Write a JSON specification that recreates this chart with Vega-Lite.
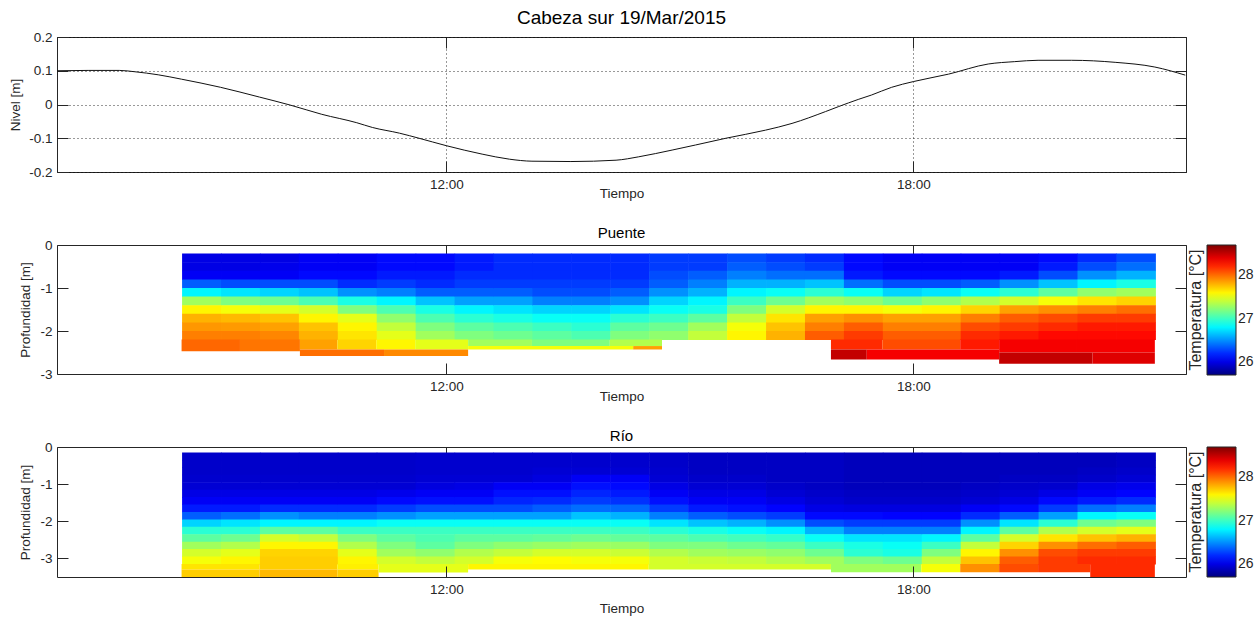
{
"$schema":"https://vega.github.io/schema/vega-lite/v6.json",
"background":"white",
"padding":{"left":7,"top":8,"right":2,"bottom":1},
"bounds":"flush",
"spacing":73,
"config":{
 "font":"Liberation Sans",
 "view":{"stroke":"#262626","strokeWidth":1},
 "axis":{"domain":false,"ticks":true,"tickSize":-11,"tickColor":"#262626","labelFontSize":13.5,"labelColor":"#262626","titleFontSize":13.5,"titleFontWeight":"normal","titleColor":"#262626","grid":false,"labelPadding":16},
 "legend":{"gradientLength":130,"gradientThickness":29,"titleOrient":"left","titleAngle":270,"titleFontSize":16,"titleFontWeight":"normal","labelFontSize":14,"offset":1,"padding":0,"titlePadding":2,"labelOffset":1,"gradientStrokeColor":"#262626","gradientStrokeWidth":1,"titleColor":"#262626","labelColor":"#262626"}
},
"datasets":{
 "nivel":[
  {"h":7.0,"n":0.1},{"h":7.4,"n":0.101},{"h":7.8,"n":0.101},{"h":8.0,"n":0.097},{"h":8.3,"n":0.088},{"h":8.6,"n":0.075},{"h":9.1,"n":0.051},{"h":9.6,"n":0.022},{"h":10.0,"n":-0.002},{"h":10.4,"n":-0.029},{"h":10.85,"n":-0.054},{"h":11.05,"n":-0.068},{"h":11.4,"n":-0.085},{"h":11.65,"n":-0.1},{"h":12.0,"n":-0.122},{"h":12.46,"n":-0.147},{"h":12.81,"n":-0.162},{"h":13.1,"n":-0.168},{"h":13.6,"n":-0.169},{"h":14.18,"n":-0.165},{"h":14.47,"n":-0.155},{"h":14.9,"n":-0.135},{"h":15.2,"n":-0.12},{"h":15.59,"n":-0.1},{"h":16.1,"n":-0.076},{"h":16.44,"n":-0.056},{"h":16.87,"n":-0.021},{"h":17.04,"n":-0.006},{"h":17.29,"n":0.015},{"h":17.46,"n":0.028},{"h":17.72,"n":0.051},{"h":18.0,"n":0.068},{"h":18.45,"n":0.09},{"h":18.96,"n":0.12},{"h":19.3,"n":0.127},{"h":19.6,"n":0.131},{"h":20.03,"n":0.131},{"h":20.59,"n":0.125},{"h":21.1,"n":0.111},{"h":21.49,"n":0.087}
 ],
 "puente":[
  {"t":8.6,"z":-0.4,"v":26},{"t":8.6,"z":-0.6,"v":26},{"t":8.6,"z":-0.8,"v":26.05},{"t":8.6,"z":-1,"v":26.35},{"t":8.6,"z":-1.2,"v":26.8},{"t":8.6,"z":-1.4,"v":27.3},{"t":8.6,"z":-1.6,"v":27.6},{"t":8.6,"z":-1.8,"v":27.8},{"t":8.6,"z":-2,"v":27.88},{"t":8.6,"z":-2.2,"v":27.95},
  {"t":9.1,"z":-0.4,"v":26},{"t":9.1,"z":-0.6,"v":26},{"t":9.1,"z":-0.8,"v":26.05},{"t":9.1,"z":-1,"v":26.3},{"t":9.1,"z":-1.2,"v":26.75},{"t":9.1,"z":-1.4,"v":27.2},{"t":9.1,"z":-1.6,"v":27.55},{"t":9.1,"z":-1.8,"v":27.78},{"t":9.1,"z":-2,"v":27.87},{"t":9.1,"z":-2.2,"v":27.95},
  {"t":9.6,"z":-0.4,"v":26},{"t":9.6,"z":-0.6,"v":26.02},{"t":9.6,"z":-0.8,"v":26.05},{"t":9.6,"z":-1,"v":26.3},{"t":9.6,"z":-1.2,"v":26.7},{"t":9.6,"z":-1.4,"v":27.15},{"t":9.6,"z":-1.6,"v":27.5},{"t":9.6,"z":-1.8,"v":27.75},{"t":9.6,"z":-2,"v":27.85},{"t":9.6,"z":-2.2,"v":27.93},
  {"t":10.1,"z":-0.4,"v":26.05},{"t":10.1,"z":-0.6,"v":26.05},{"t":10.1,"z":-0.8,"v":26.1},{"t":10.1,"z":-1,"v":26.3},{"t":10.1,"z":-1.2,"v":26.65},{"t":10.1,"z":-1.4,"v":27.05},{"t":10.1,"z":-1.6,"v":27.45},{"t":10.1,"z":-1.8,"v":27.6},{"t":10.1,"z":-2,"v":27.75},{"t":10.1,"z":-2.2,"v":27.8},
  {"t":10.6,"z":-0.4,"v":26.05},{"t":10.6,"z":-0.6,"v":26.05},{"t":10.6,"z":-0.8,"v":26.1},{"t":10.6,"z":-1,"v":26.2},{"t":10.6,"z":-1.2,"v":26.5},{"t":10.6,"z":-1.4,"v":26.9},{"t":10.6,"z":-1.6,"v":27.2},{"t":10.6,"z":-1.8,"v":27.5},{"t":10.6,"z":-2,"v":27.6},{"t":10.6,"z":-2.2,"v":27.65},
  {"t":11.1,"z":-0.4,"v":26.1},{"t":11.1,"z":-0.6,"v":26.1},{"t":11.1,"z":-0.8,"v":26.15},{"t":11.1,"z":-1,"v":26.25},{"t":11.1,"z":-1.2,"v":26.45},{"t":11.1,"z":-1.4,"v":26.8},{"t":11.1,"z":-1.6,"v":27.05},{"t":11.1,"z":-1.8,"v":27.25},{"t":11.1,"z":-2,"v":27.4},{"t":11.1,"z":-2.2,"v":27.5},
  {"t":11.6,"z":-0.4,"v":26.1},{"t":11.6,"z":-0.6,"v":26.1},{"t":11.6,"z":-0.8,"v":26.15},{"t":11.6,"z":-1,"v":26.2},{"t":11.6,"z":-1.2,"v":26.35},{"t":11.6,"z":-1.4,"v":26.65},{"t":11.6,"z":-1.6,"v":26.9},{"t":11.6,"z":-1.8,"v":27.05},{"t":11.6,"z":-2,"v":27.2},{"t":11.6,"z":-2.2,"v":27.3},
  {"t":12.1,"z":-0.4,"v":26.15},{"t":12.1,"z":-0.6,"v":26.15},{"t":12.1,"z":-0.8,"v":26.2},{"t":12.1,"z":-1,"v":26.25},{"t":12.1,"z":-1.2,"v":26.35},{"t":12.1,"z":-1.4,"v":26.55},{"t":12.1,"z":-1.6,"v":26.8},{"t":12.1,"z":-1.8,"v":26.95},{"t":12.1,"z":-2,"v":27.1},{"t":12.1,"z":-2.2,"v":27.2},
  {"t":12.6,"z":-0.4,"v":26.2},{"t":12.6,"z":-0.6,"v":26.2},{"t":12.6,"z":-0.8,"v":26.2},{"t":12.6,"z":-1,"v":26.25},{"t":12.6,"z":-1.2,"v":26.35},{"t":12.6,"z":-1.4,"v":26.55},{"t":12.6,"z":-1.6,"v":26.75},{"t":12.6,"z":-1.8,"v":26.9},{"t":12.6,"z":-2,"v":27.05},{"t":12.6,"z":-2.2,"v":27.15},
  {"t":13.1,"z":-0.4,"v":26.2},{"t":13.1,"z":-0.6,"v":26.2},{"t":13.1,"z":-0.8,"v":26.2},{"t":13.1,"z":-1,"v":26.25},{"t":13.1,"z":-1.2,"v":26.3},{"t":13.1,"z":-1.4,"v":26.45},{"t":13.1,"z":-1.6,"v":26.7},{"t":13.1,"z":-1.8,"v":26.85},{"t":13.1,"z":-2,"v":27},{"t":13.1,"z":-2.2,"v":27.1},
  {"t":13.6,"z":-0.4,"v":26.2},{"t":13.6,"z":-0.6,"v":26.2},{"t":13.6,"z":-0.8,"v":26.2},{"t":13.6,"z":-1,"v":26.25},{"t":13.6,"z":-1.2,"v":26.3},{"t":13.6,"z":-1.4,"v":26.45},{"t":13.6,"z":-1.6,"v":26.7},{"t":13.6,"z":-1.8,"v":26.85},{"t":13.6,"z":-2,"v":26.95},{"t":13.6,"z":-2.2,"v":27.05},
  {"t":14.1,"z":-0.4,"v":26.2},{"t":14.1,"z":-0.6,"v":26.2},{"t":14.1,"z":-0.8,"v":26.2},{"t":14.1,"z":-1,"v":26.25},{"t":14.1,"z":-1.2,"v":26.35},{"t":14.1,"z":-1.4,"v":26.5},{"t":14.1,"z":-1.6,"v":26.75},{"t":14.1,"z":-1.8,"v":26.95},{"t":14.1,"z":-2,"v":27.1},{"t":14.1,"z":-2.2,"v":27.2},
  {"t":14.6,"z":-0.4,"v":26.25},{"t":14.6,"z":-0.6,"v":26.25},{"t":14.6,"z":-0.8,"v":26.3},{"t":14.6,"z":-1,"v":26.35},{"t":14.6,"z":-1.2,"v":26.5},{"t":14.6,"z":-1.4,"v":26.7},{"t":14.6,"z":-1.6,"v":26.85},{"t":14.6,"z":-1.8,"v":27},{"t":14.6,"z":-2,"v":27.15},{"t":14.6,"z":-2.2,"v":27.25},
  {"t":15.1,"z":-0.4,"v":26.25},{"t":15.1,"z":-0.6,"v":26.25},{"t":15.1,"z":-0.8,"v":26.35},{"t":15.1,"z":-1,"v":26.45},{"t":15.1,"z":-1.2,"v":26.6},{"t":15.1,"z":-1.4,"v":26.8},{"t":15.1,"z":-1.6,"v":26.9},{"t":15.1,"z":-1.8,"v":27.1},{"t":15.1,"z":-2,"v":27.3},{"t":15.1,"z":-2.2,"v":27.4},
  {"t":15.6,"z":-0.4,"v":26.3},{"t":15.6,"z":-0.6,"v":26.35},{"t":15.6,"z":-0.8,"v":26.45},{"t":15.6,"z":-1,"v":26.6},{"t":15.6,"z":-1.2,"v":26.8},{"t":15.6,"z":-1.4,"v":27},{"t":15.6,"z":-1.6,"v":27.2},{"t":15.6,"z":-1.8,"v":27.4},{"t":15.6,"z":-2,"v":27.55},{"t":15.6,"z":-2.2,"v":27.6},
  {"t":16.1,"z":-0.4,"v":26.25},{"t":16.1,"z":-0.6,"v":26.3},{"t":16.1,"z":-0.8,"v":26.4},{"t":16.1,"z":-1,"v":26.6},{"t":16.1,"z":-1.2,"v":26.85},{"t":16.1,"z":-1.4,"v":27.15},{"t":16.1,"z":-1.6,"v":27.45},{"t":16.1,"z":-1.8,"v":27.65},{"t":16.1,"z":-2,"v":27.75},{"t":16.1,"z":-2.2,"v":27.8},
  {"t":16.6,"z":-0.4,"v":26.2},{"t":16.6,"z":-0.6,"v":26.25},{"t":16.6,"z":-0.8,"v":26.4},{"t":16.6,"z":-1,"v":26.65},{"t":16.6,"z":-1.2,"v":26.95},{"t":16.6,"z":-1.4,"v":27.3},{"t":16.6,"z":-1.6,"v":27.6},{"t":16.6,"z":-1.8,"v":27.85},{"t":16.6,"z":-2,"v":27.95},{"t":16.6,"z":-2.2,"v":28.05},
  {"t":17.1,"z":-0.4,"v":26.1},{"t":17.1,"z":-0.6,"v":26.1},{"t":17.1,"z":-0.8,"v":26.15},{"t":17.1,"z":-1,"v":26.4},{"t":17.1,"z":-1.2,"v":26.85},{"t":17.1,"z":-1.4,"v":27.25},{"t":17.1,"z":-1.6,"v":27.6},{"t":17.1,"z":-1.8,"v":27.9},{"t":17.1,"z":-2,"v":28.05},{"t":17.1,"z":-2.2,"v":28.15},
  {"t":17.6,"z":-0.4,"v":26.05},{"t":17.6,"z":-0.6,"v":26.05},{"t":17.6,"z":-0.8,"v":26.1},{"t":17.6,"z":-1,"v":26.3},{"t":17.6,"z":-1.2,"v":26.7},{"t":17.6,"z":-1.4,"v":27.15},{"t":17.6,"z":-1.6,"v":27.55},{"t":17.6,"z":-1.8,"v":27.85},{"t":17.6,"z":-2,"v":27.95},{"t":17.6,"z":-2.2,"v":28.05},
  {"t":18.1,"z":-0.4,"v":26.05},{"t":18.1,"z":-0.6,"v":26.05},{"t":18.1,"z":-0.8,"v":26.1},{"t":18.1,"z":-1,"v":26.3},{"t":18.1,"z":-1.2,"v":26.75},{"t":18.1,"z":-1.4,"v":27.25},{"t":18.1,"z":-1.6,"v":27.6},{"t":18.1,"z":-1.8,"v":27.85},{"t":18.1,"z":-2,"v":27.95},{"t":18.1,"z":-2.2,"v":28.05},
  {"t":18.6,"z":-0.4,"v":26.05},{"t":18.6,"z":-0.6,"v":26.05},{"t":18.6,"z":-0.8,"v":26.1},{"t":18.6,"z":-1,"v":26.35},{"t":18.6,"z":-1.2,"v":26.85},{"t":18.6,"z":-1.4,"v":27.35},{"t":18.6,"z":-1.6,"v":27.7},{"t":18.6,"z":-1.8,"v":27.95},{"t":18.6,"z":-2,"v":28.1},{"t":18.6,"z":-2.2,"v":28.2},
  {"t":19.1,"z":-0.4,"v":26.05},{"t":19.1,"z":-0.6,"v":26.05},{"t":19.1,"z":-0.8,"v":26.15},{"t":19.1,"z":-1,"v":26.5},{"t":19.1,"z":-1.2,"v":26.95},{"t":19.1,"z":-1.4,"v":27.45},{"t":19.1,"z":-1.6,"v":27.85},{"t":19.1,"z":-1.8,"v":28.05},{"t":19.1,"z":-2,"v":28.15},{"t":19.1,"z":-2.2,"v":28.25},
  {"t":19.6,"z":-0.4,"v":26.1},{"t":19.6,"z":-0.6,"v":26.15},{"t":19.6,"z":-0.8,"v":26.3},{"t":19.6,"z":-1,"v":26.65},{"t":19.6,"z":-1.2,"v":27.1},{"t":19.6,"z":-1.4,"v":27.55},{"t":19.6,"z":-1.6,"v":27.9},{"t":19.6,"z":-1.8,"v":28.1},{"t":19.6,"z":-2,"v":28.2},{"t":19.6,"z":-2.2,"v":28.3},
  {"t":20.1,"z":-0.4,"v":26.2},{"t":20.1,"z":-0.6,"v":26.3},{"t":20.1,"z":-0.8,"v":26.5},{"t":20.1,"z":-1,"v":26.8},{"t":20.1,"z":-1.2,"v":27.25},{"t":20.1,"z":-1.4,"v":27.65},{"t":20.1,"z":-1.6,"v":27.95},{"t":20.1,"z":-1.8,"v":28.15},{"t":20.1,"z":-2,"v":28.25},{"t":20.1,"z":-2.2,"v":28.3},
  {"t":20.6,"z":-0.4,"v":26.3},{"t":20.6,"z":-0.6,"v":26.4},{"t":20.6,"z":-0.8,"v":26.6},{"t":20.6,"z":-1,"v":26.9},{"t":20.6,"z":-1.2,"v":27.3},{"t":20.6,"z":-1.4,"v":27.7},{"t":20.6,"z":-1.6,"v":28},{"t":20.6,"z":-1.8,"v":28.15},{"t":20.6,"z":-2,"v":28.25},{"t":20.6,"z":-2.2,"v":28.3}
 ],
 "puenteS":[
  {"a":8.6,"b":9.35,"p":-2.2,"q":-2.47,"v":28.02},{"a":9.35,"b":10.12,"p":-2.2,"q":-2.47,"v":27.98},
  {"a":10.12,"b":10.6,"p":-2.2,"q":-2.43,"v":27.85},{"a":10.6,"b":11.1,"p":-2.2,"q":-2.43,"v":27.7},{"a":11.1,"b":11.6,"p":-2.2,"q":-2.43,"v":27.6},{"a":11.6,"b":12.28,"p":-2.2,"q":-2.43,"v":27.5},
  {"a":10.12,"b":11.2,"p":-2.43,"q":-2.58,"v":28},{"a":11.2,"b":12.28,"p":-2.43,"q":-2.58,"v":27.92},
  {"a":12.28,"b":13.1,"p":-2.2,"q":-2.35,"v":27.3},{"a":13.1,"b":14.1,"p":-2.2,"q":-2.35,"v":27.2},{"a":14.1,"b":14.77,"p":-2.2,"q":-2.35,"v":27.35},
  {"a":12.28,"b":14.4,"p":-2.35,"q":-2.43,"v":27.55},{"a":14.4,"b":14.77,"p":-2.35,"q":-2.43,"v":27.85},
  {"a":16.94,"b":17.6,"p":-2.2,"q":-2.43,"v":28.2},{"a":17.6,"b":18.6,"p":-2.2,"q":-2.43,"v":28.1},{"a":18.6,"b":19.1,"p":-2.2,"q":-2.43,"v":28.25},
  {"a":16.94,"b":17.4,"p":-2.43,"q":-2.66,"v":28.5},{"a":17.4,"b":19.1,"p":-2.43,"q":-2.66,"v":28.35},
  {"a":19.1,"b":20.1,"p":-2.2,"q":-2.5,"v":28.35},{"a":20.1,"b":21.1,"p":-2.2,"q":-2.5,"v":28.35},
  {"a":19.1,"b":20.3,"p":-2.5,"q":-2.76,"v":28.5},{"a":20.3,"b":21.1,"p":-2.5,"q":-2.76,"v":28.42}
 ],
 "rio":[
  {"t":8.6,"z":-0.35,"v":25.92},{"t":8.6,"z":-0.55,"v":25.92},{"t":8.6,"z":-0.75,"v":25.92},{"t":8.6,"z":-0.95,"v":25.93},{"t":8.6,"z":-1.15,"v":25.95},{"t":8.6,"z":-1.35,"v":26},{"t":8.6,"z":-1.55,"v":26.05},{"t":8.6,"z":-1.75,"v":26.15},{"t":8.6,"z":-1.95,"v":26.35},{"t":8.6,"z":-2.15,"v":26.7},{"t":8.6,"z":-2.35,"v":26.95},{"t":8.6,"z":-2.55,"v":27.1},{"t":8.6,"z":-2.75,"v":27.3},{"t":8.6,"z":-2.95,"v":27.45},{"t":8.6,"z":-3.15,"v":27.55},
  {"t":9.1,"z":-0.35,"v":25.92},{"t":9.1,"z":-0.55,"v":25.92},{"t":9.1,"z":-0.75,"v":25.92},{"t":9.1,"z":-0.95,"v":25.93},{"t":9.1,"z":-1.15,"v":25.95},{"t":9.1,"z":-1.35,"v":26},{"t":9.1,"z":-1.55,"v":26.05},{"t":9.1,"z":-1.75,"v":26.15},{"t":9.1,"z":-1.95,"v":26.4},{"t":9.1,"z":-2.15,"v":26.75},{"t":9.1,"z":-2.35,"v":26.95},{"t":9.1,"z":-2.55,"v":27.15},{"t":9.1,"z":-2.75,"v":27.35},{"t":9.1,"z":-2.95,"v":27.5},{"t":9.1,"z":-3.15,"v":27.6},
  {"t":9.6,"z":-0.35,"v":25.92},{"t":9.6,"z":-0.55,"v":25.92},{"t":9.6,"z":-0.75,"v":25.92},{"t":9.6,"z":-0.95,"v":25.93},{"t":9.6,"z":-1.15,"v":25.95},{"t":9.6,"z":-1.35,"v":26},{"t":9.6,"z":-1.55,"v":26.05},{"t":9.6,"z":-1.75,"v":26.2},{"t":9.6,"z":-1.95,"v":26.5},{"t":9.6,"z":-2.15,"v":26.8},{"t":9.6,"z":-2.35,"v":27.1},{"t":9.6,"z":-2.55,"v":27.45},{"t":9.6,"z":-2.75,"v":27.6},{"t":9.6,"z":-2.95,"v":27.7},{"t":9.6,"z":-3.15,"v":27.72},
  {"t":10.1,"z":-0.35,"v":25.92},{"t":10.1,"z":-0.55,"v":25.92},{"t":10.1,"z":-0.75,"v":25.92},{"t":10.1,"z":-0.95,"v":25.93},{"t":10.1,"z":-1.15,"v":25.95},{"t":10.1,"z":-1.35,"v":26},{"t":10.1,"z":-1.55,"v":26.05},{"t":10.1,"z":-1.75,"v":26.2},{"t":10.1,"z":-1.95,"v":26.45},{"t":10.1,"z":-2.15,"v":26.8},{"t":10.1,"z":-2.35,"v":27.1},{"t":10.1,"z":-2.55,"v":27.4},{"t":10.1,"z":-2.75,"v":27.6},{"t":10.1,"z":-2.95,"v":27.7},{"t":10.1,"z":-3.15,"v":27.72},
  {"t":10.6,"z":-0.35,"v":25.92},{"t":10.6,"z":-0.55,"v":25.92},{"t":10.6,"z":-0.75,"v":25.92},{"t":10.6,"z":-0.95,"v":25.93},{"t":10.6,"z":-1.15,"v":25.95},{"t":10.6,"z":-1.35,"v":26},{"t":10.6,"z":-1.55,"v":26.05},{"t":10.6,"z":-1.75,"v":26.2},{"t":10.6,"z":-1.95,"v":26.45},{"t":10.6,"z":-2.15,"v":26.8},{"t":10.6,"z":-2.35,"v":27},{"t":10.6,"z":-2.55,"v":27.2},{"t":10.6,"z":-2.75,"v":27.35},{"t":10.6,"z":-2.95,"v":27.5},{"t":10.6,"z":-3.15,"v":27.6},
  {"t":11.1,"z":-0.35,"v":25.92},{"t":11.1,"z":-0.55,"v":25.92},{"t":11.1,"z":-0.75,"v":25.92},{"t":11.1,"z":-0.95,"v":25.93},{"t":11.1,"z":-1.15,"v":25.95},{"t":11.1,"z":-1.35,"v":26.02},{"t":11.1,"z":-1.55,"v":26.1},{"t":11.1,"z":-1.75,"v":26.25},{"t":11.1,"z":-1.95,"v":26.5},{"t":11.1,"z":-2.15,"v":26.85},{"t":11.1,"z":-2.35,"v":27},{"t":11.1,"z":-2.55,"v":27.1},{"t":11.1,"z":-2.75,"v":27.2},{"t":11.1,"z":-2.95,"v":27.3},{"t":11.1,"z":-3.15,"v":27.45},
  {"t":11.6,"z":-0.35,"v":25.93},{"t":11.6,"z":-0.55,"v":25.93},{"t":11.6,"z":-0.75,"v":25.93},{"t":11.6,"z":-0.95,"v":25.95},{"t":11.6,"z":-1.15,"v":25.98},{"t":11.6,"z":-1.35,"v":26.05},{"t":11.6,"z":-1.55,"v":26.12},{"t":11.6,"z":-1.75,"v":26.3},{"t":11.6,"z":-1.95,"v":26.55},{"t":11.6,"z":-2.15,"v":26.85},{"t":11.6,"z":-2.35,"v":27},{"t":11.6,"z":-2.55,"v":27.05},{"t":11.6,"z":-2.75,"v":27.1},{"t":11.6,"z":-2.95,"v":27.25},{"t":11.6,"z":-3.15,"v":27.4},
  {"t":12.1,"z":-0.35,"v":25.93},{"t":12.1,"z":-0.55,"v":25.93},{"t":12.1,"z":-0.75,"v":25.93},{"t":12.1,"z":-0.95,"v":25.95},{"t":12.1,"z":-1.15,"v":26},{"t":12.1,"z":-1.35,"v":26.05},{"t":12.1,"z":-1.55,"v":26.12},{"t":12.1,"z":-1.75,"v":26.3},{"t":12.1,"z":-1.95,"v":26.55},{"t":12.1,"z":-2.15,"v":26.85},{"t":12.1,"z":-2.35,"v":27},{"t":12.1,"z":-2.55,"v":27.1},{"t":12.1,"z":-2.75,"v":27.2},{"t":12.1,"z":-2.95,"v":27.35},{"t":12.1,"z":-3.15,"v":27.45},
  {"t":12.6,"z":-0.35,"v":25.93},{"t":12.6,"z":-0.55,"v":25.93},{"t":12.6,"z":-0.75,"v":25.93},{"t":12.6,"z":-0.95,"v":25.95},{"t":12.6,"z":-1.15,"v":26.05},{"t":12.6,"z":-1.35,"v":26.12},{"t":12.6,"z":-1.55,"v":26.18},{"t":12.6,"z":-1.75,"v":26.3},{"t":12.6,"z":-1.95,"v":26.55},{"t":12.6,"z":-2.15,"v":26.85},{"t":12.6,"z":-2.35,"v":27},{"t":12.6,"z":-2.55,"v":27.1},{"t":12.6,"z":-2.75,"v":27.25},{"t":12.6,"z":-2.95,"v":27.4},{"t":12.6,"z":-3.15,"v":27.55},
  {"t":13.1,"z":-0.35,"v":25.93},{"t":13.1,"z":-0.55,"v":25.93},{"t":13.1,"z":-0.75,"v":25.95},{"t":13.1,"z":-0.95,"v":25.98},{"t":13.1,"z":-1.15,"v":26.05},{"t":13.1,"z":-1.35,"v":26.12},{"t":13.1,"z":-1.55,"v":26.2},{"t":13.1,"z":-1.75,"v":26.35},{"t":13.1,"z":-1.95,"v":26.55},{"t":13.1,"z":-2.15,"v":26.85},{"t":13.1,"z":-2.35,"v":27},{"t":13.1,"z":-2.55,"v":27.12},{"t":13.1,"z":-2.75,"v":27.28},{"t":13.1,"z":-2.95,"v":27.45},{"t":13.1,"z":-3.15,"v":27.58},
  {"t":13.6,"z":-0.35,"v":25.93},{"t":13.6,"z":-0.55,"v":25.93},{"t":13.6,"z":-0.75,"v":25.95},{"t":13.6,"z":-0.95,"v":26.05},{"t":13.6,"z":-1.15,"v":26.12},{"t":13.6,"z":-1.35,"v":26.18},{"t":13.6,"z":-1.55,"v":26.25},{"t":13.6,"z":-1.75,"v":26.4},{"t":13.6,"z":-1.95,"v":26.65},{"t":13.6,"z":-2.15,"v":26.85},{"t":13.6,"z":-2.35,"v":27},{"t":13.6,"z":-2.55,"v":27.15},{"t":13.6,"z":-2.75,"v":27.3},{"t":13.6,"z":-2.95,"v":27.45},{"t":13.6,"z":-3.15,"v":27.55},
  {"t":14.1,"z":-0.35,"v":25.93},{"t":14.1,"z":-0.55,"v":25.93},{"t":14.1,"z":-0.75,"v":25.95},{"t":14.1,"z":-0.95,"v":26.05},{"t":14.1,"z":-1.15,"v":26.1},{"t":14.1,"z":-1.35,"v":26.15},{"t":14.1,"z":-1.55,"v":26.22},{"t":14.1,"z":-1.75,"v":26.38},{"t":14.1,"z":-1.95,"v":26.6},{"t":14.1,"z":-2.15,"v":26.85},{"t":14.1,"z":-2.35,"v":27},{"t":14.1,"z":-2.55,"v":27.12},{"t":14.1,"z":-2.75,"v":27.28},{"t":14.1,"z":-2.95,"v":27.42},{"t":14.1,"z":-3.15,"v":27.55},
  {"t":14.6,"z":-0.35,"v":25.92},{"t":14.6,"z":-0.55,"v":25.92},{"t":14.6,"z":-0.75,"v":25.93},{"t":14.6,"z":-0.95,"v":25.95},{"t":14.6,"z":-1.15,"v":26},{"t":14.6,"z":-1.35,"v":26.05},{"t":14.6,"z":-1.55,"v":26.12},{"t":14.6,"z":-1.75,"v":26.25},{"t":14.6,"z":-1.95,"v":26.45},{"t":14.6,"z":-2.15,"v":26.75},{"t":14.6,"z":-2.35,"v":26.95},{"t":14.6,"z":-2.55,"v":27.1},{"t":14.6,"z":-2.75,"v":27.2},{"t":14.6,"z":-2.95,"v":27.35},{"t":14.6,"z":-3.15,"v":27.45},
  {"t":15.1,"z":-0.35,"v":25.9},{"t":15.1,"z":-0.55,"v":25.9},{"t":15.1,"z":-0.75,"v":25.9},{"t":15.1,"z":-0.95,"v":25.92},{"t":15.1,"z":-1.15,"v":25.95},{"t":15.1,"z":-1.35,"v":26},{"t":15.1,"z":-1.55,"v":26.05},{"t":15.1,"z":-1.75,"v":26.15},{"t":15.1,"z":-1.95,"v":26.35},{"t":15.1,"z":-2.15,"v":26.65},{"t":15.1,"z":-2.35,"v":26.9},{"t":15.1,"z":-2.55,"v":27.05},{"t":15.1,"z":-2.75,"v":27.2},{"t":15.1,"z":-2.95,"v":27.3},{"t":15.1,"z":-3.15,"v":27.42},
  {"t":15.6,"z":-0.35,"v":25.9},{"t":15.6,"z":-0.55,"v":25.9},{"t":15.6,"z":-0.75,"v":25.9},{"t":15.6,"z":-0.95,"v":25.92},{"t":15.6,"z":-1.15,"v":25.95},{"t":15.6,"z":-1.35,"v":26},{"t":15.6,"z":-1.55,"v":26.05},{"t":15.6,"z":-1.75,"v":26.12},{"t":15.6,"z":-1.95,"v":26.3},{"t":15.6,"z":-2.15,"v":26.6},{"t":15.6,"z":-2.35,"v":26.85},{"t":15.6,"z":-2.55,"v":27.02},{"t":15.6,"z":-2.75,"v":27.15},{"t":15.6,"z":-2.95,"v":27.28},{"t":15.6,"z":-3.15,"v":27.4},
  {"t":16.1,"z":-0.35,"v":25.9},{"t":16.1,"z":-0.55,"v":25.9},{"t":16.1,"z":-0.75,"v":25.9},{"t":16.1,"z":-0.95,"v":25.9},{"t":16.1,"z":-1.15,"v":25.92},{"t":16.1,"z":-1.35,"v":25.95},{"t":16.1,"z":-1.55,"v":26},{"t":16.1,"z":-1.75,"v":26.08},{"t":16.1,"z":-1.95,"v":26.25},{"t":16.1,"z":-2.15,"v":26.5},{"t":16.1,"z":-2.35,"v":26.8},{"t":16.1,"z":-2.55,"v":26.98},{"t":16.1,"z":-2.75,"v":27.12},{"t":16.1,"z":-2.95,"v":27.25},{"t":16.1,"z":-3.15,"v":27.35},
  {"t":16.6,"z":-0.35,"v":25.9},{"t":16.6,"z":-0.55,"v":25.9},{"t":16.6,"z":-0.75,"v":25.9},{"t":16.6,"z":-0.95,"v":25.9},{"t":16.6,"z":-1.15,"v":25.9},{"t":16.6,"z":-1.35,"v":25.92},{"t":16.6,"z":-1.55,"v":25.95},{"t":16.6,"z":-1.75,"v":26},{"t":16.6,"z":-1.95,"v":26.1},{"t":16.6,"z":-2.15,"v":26.3},{"t":16.6,"z":-2.35,"v":26.6},{"t":16.6,"z":-2.55,"v":26.85},{"t":16.6,"z":-2.75,"v":27},{"t":16.6,"z":-2.95,"v":27.15},{"t":16.6,"z":-3.15,"v":27.3},
  {"t":17.1,"z":-0.35,"v":25.88},{"t":17.1,"z":-0.55,"v":25.88},{"t":17.1,"z":-0.75,"v":25.88},{"t":17.1,"z":-0.95,"v":25.88},{"t":17.1,"z":-1.15,"v":25.88},{"t":17.1,"z":-1.35,"v":25.9},{"t":17.1,"z":-1.55,"v":25.92},{"t":17.1,"z":-1.75,"v":25.98},{"t":17.1,"z":-1.95,"v":26.1},{"t":17.1,"z":-2.15,"v":26.25},{"t":17.1,"z":-2.35,"v":26.45},{"t":17.1,"z":-2.55,"v":26.75},{"t":17.1,"z":-2.75,"v":26.9},{"t":17.1,"z":-2.95,"v":26.95},{"t":17.1,"z":-3.15,"v":27.2},
  {"t":17.6,"z":-0.35,"v":25.88},{"t":17.6,"z":-0.55,"v":25.88},{"t":17.6,"z":-0.75,"v":25.88},{"t":17.6,"z":-0.95,"v":25.88},{"t":17.6,"z":-1.15,"v":25.88},{"t":17.6,"z":-1.35,"v":25.9},{"t":17.6,"z":-1.55,"v":25.92},{"t":17.6,"z":-1.75,"v":25.98},{"t":17.6,"z":-1.95,"v":26.08},{"t":17.6,"z":-2.15,"v":26.25},{"t":17.6,"z":-2.35,"v":26.45},{"t":17.6,"z":-2.55,"v":26.75},{"t":17.6,"z":-2.75,"v":26.85},{"t":17.6,"z":-2.95,"v":26.9},{"t":17.6,"z":-3.15,"v":27.15},
  {"t":18.1,"z":-0.35,"v":25.88},{"t":18.1,"z":-0.55,"v":25.88},{"t":18.1,"z":-0.75,"v":25.88},{"t":18.1,"z":-0.95,"v":25.88},{"t":18.1,"z":-1.15,"v":25.88},{"t":18.1,"z":-1.35,"v":25.9},{"t":18.1,"z":-1.55,"v":25.92},{"t":18.1,"z":-1.75,"v":25.98},{"t":18.1,"z":-1.95,"v":26.08},{"t":18.1,"z":-2.15,"v":26.25},{"t":18.1,"z":-2.35,"v":26.45},{"t":18.1,"z":-2.55,"v":26.8},{"t":18.1,"z":-2.75,"v":27},{"t":18.1,"z":-2.95,"v":27.2},{"t":18.1,"z":-3.15,"v":27.4},
  {"t":18.6,"z":-0.35,"v":25.88},{"t":18.6,"z":-0.55,"v":25.88},{"t":18.6,"z":-0.75,"v":25.88},{"t":18.6,"z":-0.95,"v":25.88},{"t":18.6,"z":-1.15,"v":25.9},{"t":18.6,"z":-1.35,"v":25.92},{"t":18.6,"z":-1.55,"v":25.95},{"t":18.6,"z":-1.75,"v":26.05},{"t":18.6,"z":-1.95,"v":26.2},{"t":18.6,"z":-2.15,"v":26.5},{"t":18.6,"z":-2.35,"v":26.8},{"t":18.6,"z":-2.55,"v":27.1},{"t":18.6,"z":-2.75,"v":27.4},{"t":18.6,"z":-2.95,"v":27.6},{"t":18.6,"z":-3.15,"v":27.75},
  {"t":19.1,"z":-0.35,"v":25.88},{"t":19.1,"z":-0.55,"v":25.88},{"t":19.1,"z":-0.75,"v":25.88},{"t":19.1,"z":-0.95,"v":25.9},{"t":19.1,"z":-1.15,"v":25.92},{"t":19.1,"z":-1.35,"v":25.95},{"t":19.1,"z":-1.55,"v":26},{"t":19.1,"z":-1.75,"v":26.1},{"t":19.1,"z":-1.95,"v":26.35},{"t":19.1,"z":-2.15,"v":26.75},{"t":19.1,"z":-2.35,"v":27.1},{"t":19.1,"z":-2.55,"v":27.45},{"t":19.1,"z":-2.75,"v":27.7},{"t":19.1,"z":-2.95,"v":27.9},{"t":19.1,"z":-3.15,"v":28.05},
  {"t":19.6,"z":-0.35,"v":25.88},{"t":19.6,"z":-0.55,"v":25.88},{"t":19.6,"z":-0.75,"v":25.88},{"t":19.6,"z":-0.95,"v":25.9},{"t":19.6,"z":-1.15,"v":25.93},{"t":19.6,"z":-1.35,"v":26},{"t":19.6,"z":-1.55,"v":26.1},{"t":19.6,"z":-1.75,"v":26.25},{"t":19.6,"z":-1.95,"v":26.55},{"t":19.6,"z":-2.15,"v":26.95},{"t":19.6,"z":-2.35,"v":27.35},{"t":19.6,"z":-2.55,"v":27.65},{"t":19.6,"z":-2.75,"v":27.9},{"t":19.6,"z":-2.95,"v":28.1},{"t":19.6,"z":-3.15,"v":28.15},
  {"t":20.1,"z":-0.35,"v":25.88},{"t":20.1,"z":-0.55,"v":25.88},{"t":20.1,"z":-0.75,"v":25.9},{"t":20.1,"z":-0.95,"v":25.92},{"t":20.1,"z":-1.15,"v":26},{"t":20.1,"z":-1.35,"v":26.05},{"t":20.1,"z":-1.55,"v":26.15},{"t":20.1,"z":-1.75,"v":26.4},{"t":20.1,"z":-1.95,"v":26.8},{"t":20.1,"z":-2.15,"v":27.15},{"t":20.1,"z":-2.35,"v":27.45},{"t":20.1,"z":-2.55,"v":27.75},{"t":20.1,"z":-2.75,"v":28},{"t":20.1,"z":-2.95,"v":28.15},{"t":20.1,"z":-3.15,"v":28.2},
  {"t":20.6,"z":-0.35,"v":25.9},{"t":20.6,"z":-0.55,"v":25.9},{"t":20.6,"z":-0.75,"v":25.92},{"t":20.6,"z":-0.95,"v":25.95},{"t":20.6,"z":-1.15,"v":26.02},{"t":20.6,"z":-1.35,"v":26.08},{"t":20.6,"z":-1.55,"v":26.2},{"t":20.6,"z":-1.75,"v":26.45},{"t":20.6,"z":-1.95,"v":26.85},{"t":20.6,"z":-2.15,"v":27.2},{"t":20.6,"z":-2.35,"v":27.5},{"t":20.6,"z":-2.55,"v":27.8},{"t":20.6,"z":-2.75,"v":28.05},{"t":20.6,"z":-2.95,"v":28.15},{"t":20.6,"z":-3.15,"v":28.2}
 ],
 "rioS":[
  {"a":8.6,"b":9.6,"p":-3.15,"q":-3.3,"v":27.65},{"a":8.6,"b":9.6,"p":-3.3,"q":-3.5,"v":27.72},
  {"a":9.6,"b":10.6,"p":-3.15,"q":-3.3,"v":27.72},{"a":9.6,"b":10.6,"p":-3.3,"q":-3.5,"v":27.78},
  {"a":10.6,"b":11.13,"p":-3.15,"q":-3.3,"v":27.62},{"a":10.6,"b":11.13,"p":-3.3,"q":-3.5,"v":27.72},
  {"a":11.13,"b":12.28,"p":-3.15,"q":-3.38,"v":27.5},
  {"a":12.28,"b":14.6,"p":-3.15,"q":-3.3,"v":27.6},{"a":14.6,"b":16.94,"p":-3.15,"q":-3.3,"v":27.45},
  {"a":16.94,"b":18.1,"p":-3.15,"q":-3.37,"v":27.3},{"a":18.1,"b":18.6,"p":-3.15,"q":-3.37,"v":27.55},{"a":18.6,"b":19.1,"p":-3.15,"q":-3.37,"v":27.9},{"a":19.1,"b":19.6,"p":-3.15,"q":-3.37,"v":28.1},{"a":19.6,"b":20.27,"p":-3.15,"q":-3.37,"v":28.15},
  {"a":20.27,"b":21.1,"p":-3.15,"q":-3.5,"v":28.2}
 ]
},
"resolve":{"scale":{"color":"independent","x":"independent","y":"independent"}},
"vconcat":[
 {
  "width":1129,"height":135,
  "title":{"text":"Cabeza sur 19/Mar/2015","fontSize":19,"fontWeight":"normal","frame":"group","offset":2,"color":"#000","anchor":"middle"},
  "data":{"name":"nivel"},
  "layer":[
   {"mark":{"type":"line","color":"#111","strokeWidth":1,"interpolate":"monotone"},
    "encoding":{
     "x":{"field":"h","type":"quantitative","scale":{"domain":[7,21.5],"nice":false,"zero":false},
      "axis":{"orient":"bottom","values":[12,18],"labelExpr":"datum.value + ':00'","title":"Tiempo","titleY":14,"titleBaseline":"top","grid":true,"gridDash":[1,3],"gridColor":"#000","gridOpacity":0.8}},
     "y":{"field":"n","type":"quantitative","scale":{"domain":[-0.2,0.2],"nice":false,"zero":false},
      "axis":{"orient":"left","values":[-0.2,-0.1,0,0.1,0.2],"labelExpr":"(datum.value < 0 ? '-' : '') + format(abs(datum.value), '~g')","title":"Nivel [m]","titleX":-35,"grid":true,"gridDash":[1,3],"gridColor":"#000","gridOpacity":0.8}}
    }},
   {"mark":{"type":"point","opacity":0},
    "encoding":{
     "x":{"field":"h","type":"quantitative","axis":{"orient":"top","values":[12,18],"labels":false,"title":null,"grid":false}},
     "y":{"field":"n","type":"quantitative","axis":{"orient":"right","values":[-0.2,-0.1,0,0.1,0.2],"labels":false,"title":null,"grid":false}}
    }}
  ],
  "resolve":{"axis":{"x":"independent","y":"independent"}}
 },
 {
  "width":1129,"height":129,
  "title":{"text":"Puente","fontSize":15,"fontWeight":"normal","frame":"group","offset":-2.5,"color":"#000","anchor":"middle"},
  "layer":[
   {"data":{"name":"puente"},"mark":{"type":"rect","binSpacing":0},
    "encoding":{
     "x":{"field":"t","type":"quantitative","bin":{"binned":true,"step":0.507},"scale":{"domain":[7,21.5],"nice":false,"zero":false},
      "axis":{"orient":"bottom","values":[12,18],"labelExpr":"datum.value + ':00'","title":"Tiempo","titleY":15,"titleBaseline":"top"}},
     "y":{"field":"z","type":"quantitative","bin":{"binned":true,"step":0.212},"scale":{"domain":[-3,0],"nice":false,"zero":false},
      "axis":{"orient":"left","values":[0,-1,-2,-3],"labelExpr":"(datum.value < 0 ? '-' : '') + format(abs(datum.value), '~g')","title":"Profundidad [m]","titleX":-25}},
     "color":{"field":"v","type":"quantitative","title":"Temperatura [°C]",
      "scale":{"type":"linear","domain":[25.7,26.075,26.45,26.825,27.2,27.575,27.95,28.325,28.7],"range":["#00007f","#0000ff","#007fff","#00ffff","#7fff7f","#ffff00","#ff7f00","#ff0000","#7f0000"],"interpolate":"rgb","clamp":true},
      "legend":{"values":[26,27,28]}}
    }},
   {"data":{"name":"puenteS"},"mark":{"type":"rect"},
    "encoding":{
     "x":{"field":"a","type":"quantitative","axis":null},"x2":{"field":"b"},
     "y":{"field":"p","type":"quantitative","axis":null},"y2":{"field":"q"},
     "color":{"field":"v","type":"quantitative","title":"Temperatura [°C]"}
    }},
   {"data":{"name":"puente"},"mark":{"type":"point","opacity":0},
    "encoding":{
     "x":{"field":"t","type":"quantitative","axis":{"orient":"top","values":[12,18],"labels":false,"title":null}},
     "y":{"field":"z","type":"quantitative","axis":{"orient":"right","values":[0,-1,-2,-3],"labels":false,"title":null}}
    }}
  ],
  "resolve":{"axis":{"x":"independent","y":"independent"}}
 },
 {
  "width":1129,"height":130,
  "title":{"text":"Río","fontSize":15,"fontWeight":"normal","frame":"group","offset":-4,"color":"#000","anchor":"middle"},
  "layer":[
   {"data":{"name":"rio"},"mark":{"type":"rect","binSpacing":0},
    "encoding":{
     "x":{"field":"t","type":"quantitative","bin":{"binned":true,"step":0.507},"scale":{"domain":[7,21.5],"nice":false,"zero":false},
      "axis":{"orient":"bottom","values":[12,18],"labelExpr":"datum.value + ':00'","title":"Tiempo","titleY":24,"titleBaseline":"top"}},
     "y":{"field":"z","type":"quantitative","bin":{"binned":true,"step":0.214},"scale":{"domain":[-3.5,0],"nice":false,"zero":false},
      "axis":{"orient":"left","values":[0,-1,-2,-3],"labelExpr":"(datum.value < 0 ? '-' : '') + format(abs(datum.value), '~g')","title":"Profundidad [m]","titleX":-25}},
     "color":{"field":"v","type":"quantitative","title":"Temperatura [°C]",
      "scale":{"type":"linear","domain":[25.7,26.075,26.45,26.825,27.2,27.575,27.95,28.325,28.7],"range":["#00007f","#0000ff","#007fff","#00ffff","#7fff7f","#ffff00","#ff7f00","#ff0000","#7f0000"],"interpolate":"rgb","clamp":true},
      "legend":{"values":[26,27,28]}}
    }},
   {"data":{"name":"rioS"},"mark":{"type":"rect"},
    "encoding":{
     "x":{"field":"a","type":"quantitative","axis":null},"x2":{"field":"b"},
     "y":{"field":"p","type":"quantitative","axis":null},"y2":{"field":"q"},
     "color":{"field":"v","type":"quantitative","title":"Temperatura [°C]"}
    }},
   {"data":{"name":"rio"},"mark":{"type":"point","opacity":0},
    "encoding":{
     "x":{"field":"t","type":"quantitative","axis":{"orient":"top","values":[12,18],"labels":false,"title":null}},
     "y":{"field":"z","type":"quantitative","axis":{"orient":"right","values":[0,-1,-2,-3],"labels":false,"title":null}}
    }}
  ],
  "resolve":{"axis":{"x":"independent","y":"independent"}}
 }
]
}
